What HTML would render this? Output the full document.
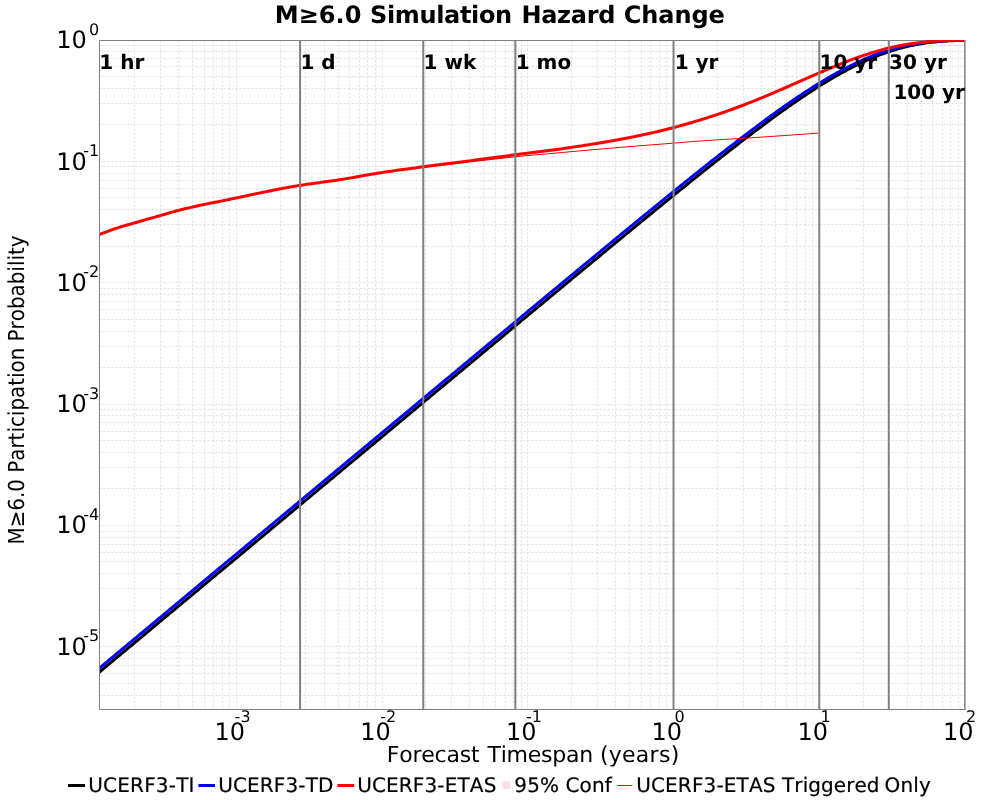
<!DOCTYPE html>
<html lang="en"><head><meta charset="utf-8"><title>M≥6.0 Simulation Hazard Change</title>
<style>html,body{margin:0;padding:0;background:#fff;}body{width:1000px;height:800px;overflow:hidden;}svg{display:block;font-kerning:none;}.lg text{stroke:#000;stroke-width:0.2px;stroke-linejoin:round;}svg{text-rendering:geometricPrecision;font-family:"DejaVu Sans","Liberation Sans",sans-serif;}</style>
</head><body>
<svg width="1000" height="800" viewBox="0 0 1000 800">
<rect x="0" y="0" width="1000" height="800" fill="#ffffff"/>
<defs><clipPath id="plot"><rect x="100" y="40" width="865.6" height="669.5"/></clipPath><clipPath id="plotg"><rect x="99.5" y="40.5" width="866.0" height="669.0"/></clipPath></defs>
<g stroke="#dedede" stroke-width="1" stroke-dasharray="2 2" fill="none" clip-path="url(#plotg)">
<line x1="134.5" y1="40.5" x2="134.5" y2="709.5"/>
<line x1="160.5" y1="40.5" x2="160.5" y2="709.5"/>
<line x1="178.5" y1="40.5" x2="178.5" y2="709.5"/>
<line x1="192.5" y1="40.5" x2="192.5" y2="709.5"/>
<line x1="204.5" y1="40.5" x2="204.5" y2="709.5"/>
<line x1="213.5" y1="40.5" x2="213.5" y2="709.5"/>
<line x1="222.5" y1="40.5" x2="222.5" y2="709.5"/>
<line x1="229.5" y1="40.5" x2="229.5" y2="709.5"/>
<line x1="236.5" y1="40.5" x2="236.5" y2="709.5"/>
<line x1="280.5" y1="40.5" x2="280.5" y2="709.5"/>
<line x1="305.5" y1="40.5" x2="305.5" y2="709.5"/>
<line x1="324.5" y1="40.5" x2="324.5" y2="709.5"/>
<line x1="338.5" y1="40.5" x2="338.5" y2="709.5"/>
<line x1="349.5" y1="40.5" x2="349.5" y2="709.5"/>
<line x1="359.5" y1="40.5" x2="359.5" y2="709.5"/>
<line x1="367.5" y1="40.5" x2="367.5" y2="709.5"/>
<line x1="375.5" y1="40.5" x2="375.5" y2="709.5"/>
<line x1="382.5" y1="40.5" x2="382.5" y2="709.5"/>
<line x1="425.5" y1="40.5" x2="425.5" y2="709.5"/>
<line x1="451.5" y1="40.5" x2="451.5" y2="709.5"/>
<line x1="469.5" y1="40.5" x2="469.5" y2="709.5"/>
<line x1="483.5" y1="40.5" x2="483.5" y2="709.5"/>
<line x1="495.5" y1="40.5" x2="495.5" y2="709.5"/>
<line x1="505.5" y1="40.5" x2="505.5" y2="709.5"/>
<line x1="513.5" y1="40.5" x2="513.5" y2="709.5"/>
<line x1="521.5" y1="40.5" x2="521.5" y2="709.5"/>
<line x1="527.5" y1="40.5" x2="527.5" y2="709.5"/>
<line x1="571.5" y1="40.5" x2="571.5" y2="709.5"/>
<line x1="597.5" y1="40.5" x2="597.5" y2="709.5"/>
<line x1="615.5" y1="40.5" x2="615.5" y2="709.5"/>
<line x1="629.5" y1="40.5" x2="629.5" y2="709.5"/>
<line x1="641.5" y1="40.5" x2="641.5" y2="709.5"/>
<line x1="650.5" y1="40.5" x2="650.5" y2="709.5"/>
<line x1="659.5" y1="40.5" x2="659.5" y2="709.5"/>
<line x1="666.5" y1="40.5" x2="666.5" y2="709.5"/>
<line x1="673.5" y1="40.5" x2="673.5" y2="709.5"/>
<line x1="717.5" y1="40.5" x2="717.5" y2="709.5"/>
<line x1="743.5" y1="40.5" x2="743.5" y2="709.5"/>
<line x1="761.5" y1="40.5" x2="761.5" y2="709.5"/>
<line x1="775.5" y1="40.5" x2="775.5" y2="709.5"/>
<line x1="786.5" y1="40.5" x2="786.5" y2="709.5"/>
<line x1="796.5" y1="40.5" x2="796.5" y2="709.5"/>
<line x1="805.5" y1="40.5" x2="805.5" y2="709.5"/>
<line x1="812.5" y1="40.5" x2="812.5" y2="709.5"/>
<line x1="819.5" y1="40.5" x2="819.5" y2="709.5"/>
<line x1="863.5" y1="40.5" x2="863.5" y2="709.5"/>
<line x1="888.5" y1="40.5" x2="888.5" y2="709.5"/>
<line x1="907.5" y1="40.5" x2="907.5" y2="709.5"/>
<line x1="921.5" y1="40.5" x2="921.5" y2="709.5"/>
<line x1="932.5" y1="40.5" x2="932.5" y2="709.5"/>
<line x1="942.5" y1="40.5" x2="942.5" y2="709.5"/>
<line x1="950.5" y1="40.5" x2="950.5" y2="709.5"/>
<line x1="958.5" y1="40.5" x2="958.5" y2="709.5"/>
<line x1="99.5" y1="695.5" x2="965.0" y2="695.5"/>
<line x1="99.5" y1="683.5" x2="965.0" y2="683.5"/>
<line x1="99.5" y1="673.5" x2="965.0" y2="673.5"/>
<line x1="99.5" y1="665.5" x2="965.0" y2="665.5"/>
<line x1="99.5" y1="658.5" x2="965.0" y2="658.5"/>
<line x1="99.5" y1="652.5" x2="965.0" y2="652.5"/>
<line x1="99.5" y1="646.5" x2="965.0" y2="646.5"/>
<line x1="99.5" y1="610.5" x2="965.0" y2="610.5"/>
<line x1="99.5" y1="588.5" x2="965.0" y2="588.5"/>
<line x1="99.5" y1="573.5" x2="965.0" y2="573.5"/>
<line x1="99.5" y1="561.5" x2="965.0" y2="561.5"/>
<line x1="99.5" y1="552.5" x2="965.0" y2="552.5"/>
<line x1="99.5" y1="544.5" x2="965.0" y2="544.5"/>
<line x1="99.5" y1="537.5" x2="965.0" y2="537.5"/>
<line x1="99.5" y1="531.5" x2="965.0" y2="531.5"/>
<line x1="99.5" y1="525.5" x2="965.0" y2="525.5"/>
<line x1="99.5" y1="488.5" x2="965.0" y2="488.5"/>
<line x1="99.5" y1="467.5" x2="965.0" y2="467.5"/>
<line x1="99.5" y1="452.5" x2="965.0" y2="452.5"/>
<line x1="99.5" y1="440.5" x2="965.0" y2="440.5"/>
<line x1="99.5" y1="431.5" x2="965.0" y2="431.5"/>
<line x1="99.5" y1="422.5" x2="965.0" y2="422.5"/>
<line x1="99.5" y1="415.5" x2="965.0" y2="415.5"/>
<line x1="99.5" y1="409.5" x2="965.0" y2="409.5"/>
<line x1="99.5" y1="404.5" x2="965.0" y2="404.5"/>
<line x1="99.5" y1="367.5" x2="965.0" y2="367.5"/>
<line x1="99.5" y1="346.5" x2="965.0" y2="346.5"/>
<line x1="99.5" y1="331.5" x2="965.0" y2="331.5"/>
<line x1="99.5" y1="319.5" x2="965.0" y2="319.5"/>
<line x1="99.5" y1="309.5" x2="965.0" y2="309.5"/>
<line x1="99.5" y1="301.5" x2="965.0" y2="301.5"/>
<line x1="99.5" y1="294.5" x2="965.0" y2="294.5"/>
<line x1="99.5" y1="288.5" x2="965.0" y2="288.5"/>
<line x1="99.5" y1="282.5" x2="965.0" y2="282.5"/>
<line x1="99.5" y1="246.5" x2="965.0" y2="246.5"/>
<line x1="99.5" y1="224.5" x2="965.0" y2="224.5"/>
<line x1="99.5" y1="209.5" x2="965.0" y2="209.5"/>
<line x1="99.5" y1="197.5" x2="965.0" y2="197.5"/>
<line x1="99.5" y1="188.5" x2="965.0" y2="188.5"/>
<line x1="99.5" y1="180.5" x2="965.0" y2="180.5"/>
<line x1="99.5" y1="173.5" x2="965.0" y2="173.5"/>
<line x1="99.5" y1="166.5" x2="965.0" y2="166.5"/>
<line x1="99.5" y1="161.5" x2="965.0" y2="161.5"/>
<line x1="99.5" y1="124.5" x2="965.0" y2="124.5"/>
<line x1="99.5" y1="103.5" x2="965.0" y2="103.5"/>
<line x1="99.5" y1="88.5" x2="965.0" y2="88.5"/>
<line x1="99.5" y1="76.5" x2="965.0" y2="76.5"/>
<line x1="99.5" y1="66.5" x2="965.0" y2="66.5"/>
<line x1="99.5" y1="58.5" x2="965.0" y2="58.5"/>
<line x1="99.5" y1="51.5" x2="965.0" y2="51.5"/>
<line x1="99.5" y1="45.5" x2="965.0" y2="45.5"/>
</g>
<path d="M965.5,40.5 L99.5,40.5 L99.5,709.5 L965.5,709.5" fill="none" stroke="#808080" stroke-width="1" stroke-linejoin="miter"/>
<g fill="none" stroke-linejoin="round" stroke-linecap="butt" clip-path="url(#plot)">
<path d="M99.00,672.40 L101.00,670.74 L103.00,669.07 L105.00,667.40 L107.00,665.74 L109.00,664.07 L111.00,662.41 L113.00,660.74 L115.00,659.08 L117.00,657.41 L119.00,655.75 L121.00,654.08 L123.00,652.42 L125.00,650.75 L127.00,649.08 L129.00,647.42 L131.00,645.75 L133.00,644.09 L135.00,642.42 L137.00,640.76 L139.00,639.09 L141.00,637.43 L143.00,635.76 L145.00,634.09 L147.00,632.43 L149.00,630.76 L151.00,629.10 L153.00,627.43 L155.00,625.77 L157.00,624.10 L159.00,622.44 L161.00,620.77 L163.00,619.11 L165.00,617.44 L167.00,615.77 L169.00,614.11 L171.00,612.44 L173.00,610.78 L175.00,609.11 L177.00,607.45 L179.00,605.78 L181.00,604.12 L183.00,602.45 L185.00,600.79 L187.00,599.12 L189.00,597.45 L191.00,595.79 L193.00,594.12 L195.00,592.46 L197.00,590.79 L199.00,589.13 L201.00,587.46 L203.00,585.80 L205.00,584.13 L207.00,582.47 L209.00,580.80 L211.00,579.13 L213.00,577.47 L215.00,575.80 L217.00,574.14 L219.00,572.47 L221.00,570.81 L223.00,569.14 L225.00,567.48 L227.00,565.81 L229.00,564.15 L231.00,562.48 L233.00,560.81 L235.00,559.15 L237.00,557.48 L239.00,555.82 L241.00,554.15 L243.00,552.49 L245.00,550.82 L247.00,549.16 L249.00,547.49 L251.00,545.83 L253.00,544.16 L255.00,542.50 L257.00,540.83 L259.00,539.16 L261.00,537.50 L263.00,535.83 L265.00,534.17 L267.00,532.50 L269.00,530.84 L271.00,529.17 L273.00,527.51 L275.00,525.84 L277.00,524.18 L279.00,522.51 L281.00,520.84 L283.00,519.18 L285.00,517.51 L287.00,515.85 L289.00,514.18 L291.00,512.52 L293.00,510.85 L295.00,509.19 L297.00,507.52 L299.00,505.86 L301.00,504.19 L303.00,502.53 L305.00,500.86 L307.00,499.20 L309.00,497.53 L311.00,495.86 L313.00,494.20 L315.00,492.53 L317.00,490.87 L319.00,489.20 L321.00,487.54 L323.00,485.87 L325.00,484.21 L327.00,482.54 L329.00,480.88 L331.00,479.21 L333.00,477.55 L335.00,475.88 L337.00,474.22 L339.00,472.55 L341.00,470.89 L343.00,469.22 L345.00,467.55 L347.00,465.89 L349.00,464.22 L351.00,462.56 L353.00,460.89 L355.00,459.23 L357.00,457.56 L359.00,455.90 L361.00,454.23 L363.00,452.57 L365.00,450.90 L367.00,449.24 L369.00,447.57 L371.00,445.91 L373.00,444.24 L375.00,442.58 L377.00,440.91 L379.00,439.25 L381.00,437.58 L383.00,435.92 L385.00,434.25 L387.00,432.59 L389.00,430.92 L391.00,429.26 L393.00,427.59 L395.00,425.93 L397.00,424.26 L399.00,422.60 L401.00,420.93 L403.00,419.27 L405.00,417.60 L407.00,415.94 L409.00,414.27 L411.00,412.61 L413.00,410.94 L415.00,409.28 L417.00,407.61 L419.00,405.95 L421.00,404.28 L423.00,402.62 L425.00,400.96 L427.00,399.29 L429.00,397.63 L431.00,395.96 L433.00,394.30 L435.00,392.63 L437.00,390.97 L439.00,389.30 L441.00,387.64 L443.00,385.98 L445.00,384.31 L447.00,382.65 L449.00,380.98 L451.00,379.32 L453.00,377.65 L455.00,375.99 L457.00,374.33 L459.00,372.66 L461.00,371.00 L463.00,369.33 L465.00,367.67 L467.00,366.01 L469.00,364.34 L471.00,362.68 L473.00,361.02 L475.00,359.35 L477.00,357.69 L479.00,356.03 L481.00,354.36 L483.00,352.70 L485.00,351.04 L487.00,349.37 L489.00,347.71 L491.00,346.05 L493.00,344.38 L495.00,342.72 L497.00,341.06 L499.00,339.39 L501.00,337.73 L503.00,336.07 L505.00,334.41 L507.00,332.75 L509.00,331.08 L511.00,329.42 L513.00,327.76 L515.00,326.10 L517.00,324.44 L519.00,322.77 L521.00,321.11 L523.00,319.45 L525.00,317.79 L527.00,316.13 L529.00,314.47 L531.00,312.81 L533.00,311.15 L535.00,309.49 L537.00,307.82 L539.00,306.16 L541.00,304.50 L543.00,302.84 L545.00,301.18 L547.00,299.53 L549.00,297.87 L551.00,296.21 L553.00,294.55 L555.00,292.89 L557.00,291.23 L559.00,289.57 L561.00,287.91 L563.00,286.26 L565.00,284.60 L567.00,282.94 L569.00,281.29 L571.00,279.63 L573.00,277.97 L575.00,276.32 L577.00,274.66 L579.00,273.00 L581.00,271.35 L583.00,269.69 L585.00,268.04 L587.00,266.39 L589.00,264.73 L591.00,263.08 L593.00,261.42 L595.00,259.77 L597.00,258.12 L599.00,256.47 L601.00,254.82 L603.00,253.17 L605.00,251.51 L607.00,249.86 L609.00,248.21 L611.00,246.57 L613.00,244.92 L615.00,243.27 L617.00,241.62 L619.00,239.97 L621.00,238.33 L623.00,236.68 L625.00,235.04 L627.00,233.39 L629.00,231.75 L631.00,230.11 L633.00,228.46 L635.00,226.82 L637.00,225.18 L639.00,223.54 L641.00,221.90 L643.00,220.26 L645.00,218.63 L647.00,216.99 L649.00,215.35 L651.00,213.72 L653.00,212.09 L655.00,210.45 L657.00,208.82 L659.00,207.19 L661.00,205.56 L663.00,203.93 L665.00,202.31 L667.00,200.68 L669.00,199.06 L671.00,197.43 L673.00,195.81 L675.00,194.19 L677.00,192.57 L679.00,190.95 L681.00,189.34 L683.00,187.72 L685.00,186.11 L687.00,184.50 L689.00,182.89 L691.00,181.28 L693.00,179.67 L695.00,178.07 L697.00,176.47 L699.00,174.87 L701.00,173.27 L703.00,171.67 L705.00,170.08 L707.00,168.49 L709.00,166.90 L711.00,165.31 L713.00,163.73 L715.00,162.14 L717.00,160.56 L719.00,158.99 L721.00,157.41 L723.00,155.84 L725.00,154.28 L727.00,152.71 L729.00,151.15 L731.00,149.59 L733.00,148.04 L735.00,146.48 L737.00,144.94 L739.00,143.39 L741.00,141.85 L743.00,140.32 L745.00,138.78 L747.00,137.25 L749.00,135.73 L751.00,134.21 L753.00,132.70 L755.00,131.18 L757.00,129.68 L759.00,128.18 L761.00,126.68 L763.00,125.19 L765.00,123.71 L767.00,122.23 L769.00,120.75 L771.00,119.29 L773.00,117.82 L775.00,116.37 L777.00,114.92 L779.00,113.48 L781.00,112.04 L783.00,110.61 L785.00,109.19 L787.00,107.78 L789.00,106.37 L791.00,104.97 L793.00,103.58 L795.00,102.20 L797.00,100.82 L799.00,99.46 L801.00,98.10 L803.00,96.75 L805.00,95.42 L807.00,94.09 L809.00,92.77 L811.00,91.46 L813.00,90.17 L815.00,88.88 L817.00,87.60 L819.00,86.34 L821.00,85.09 L823.00,83.85 L825.00,82.62 L827.00,81.40 L829.00,80.20 L831.00,79.01 L833.00,77.83 L835.00,76.67 L837.00,75.52 L839.00,74.39 L841.00,73.27 L843.00,72.16 L845.00,71.07 L847.00,70.00 L849.00,68.94 L851.00,67.90 L853.00,66.88 L855.00,65.87 L857.00,64.88 L859.00,63.91 L861.00,62.95 L863.00,62.02 L865.00,61.10 L867.00,60.20 L869.00,59.32 L871.00,58.46 L873.00,57.62 L875.00,56.80 L877.00,55.99 L879.00,55.21 L881.00,54.45 L883.00,53.72 L885.00,53.00 L887.00,52.30 L889.00,51.63 L891.00,50.97 L893.00,50.34 L895.00,49.73 L897.00,49.14 L899.00,48.57 L901.00,48.03 L903.00,47.50 L905.00,47.00 L907.00,46.52 L909.00,46.06 L911.00,45.62 L913.00,45.20 L915.00,44.81 L917.00,44.43 L919.00,44.07 L921.00,43.74 L923.00,43.42 L925.00,43.12 L927.00,42.84 L929.00,42.58 L931.00,42.34 L933.00,42.11 L935.00,41.90 L937.00,41.71 L939.00,41.53 L941.00,41.36 L943.00,41.21 L945.00,41.08 L947.00,40.95 L949.00,40.84 L951.00,40.74 L953.00,40.64 L955.00,40.56 L957.00,40.49 L959.00,40.42 L961.00,40.37 L963.00,40.32 L965.00,40.27" stroke="#000000" stroke-width="3"/>
<path d="M99.00,668.45 L101.00,666.78 L103.00,665.12 L105.00,663.45 L107.00,661.78 L109.00,660.12 L111.00,658.45 L113.00,656.79 L115.00,655.12 L117.00,653.46 L119.00,651.79 L121.00,650.13 L123.00,648.46 L125.00,646.80 L127.00,645.13 L129.00,643.46 L131.00,641.80 L133.00,640.13 L135.00,638.47 L137.00,636.80 L139.00,635.14 L141.00,633.47 L143.00,631.81 L145.00,630.14 L147.00,628.47 L149.00,626.81 L151.00,625.14 L153.00,623.48 L155.00,621.81 L157.00,620.15 L159.00,618.48 L161.00,616.82 L163.00,615.15 L165.00,613.49 L167.00,611.82 L169.00,610.15 L171.00,608.49 L173.00,606.82 L175.00,605.16 L177.00,603.49 L179.00,601.83 L181.00,600.16 L183.00,598.50 L185.00,596.83 L187.00,595.17 L189.00,593.50 L191.00,591.83 L193.00,590.17 L195.00,588.50 L197.00,586.84 L199.00,585.17 L201.00,583.51 L203.00,581.84 L205.00,580.18 L207.00,578.51 L209.00,576.85 L211.00,575.18 L213.00,573.51 L215.00,571.85 L217.00,570.18 L219.00,568.52 L221.00,566.85 L223.00,565.19 L225.00,563.52 L227.00,561.86 L229.00,560.19 L231.00,558.53 L233.00,556.86 L235.00,555.19 L237.00,553.53 L239.00,551.86 L241.00,550.20 L243.00,548.53 L245.00,546.87 L247.00,545.20 L249.00,543.54 L251.00,541.87 L253.00,540.21 L255.00,538.54 L257.00,536.88 L259.00,535.21 L261.00,533.54 L263.00,531.88 L265.00,530.21 L267.00,528.55 L269.00,526.88 L271.00,525.22 L273.00,523.55 L275.00,521.89 L277.00,520.22 L279.00,518.56 L281.00,516.89 L283.00,515.23 L285.00,513.56 L287.00,511.89 L289.00,510.23 L291.00,508.56 L293.00,506.90 L295.00,505.23 L297.00,503.57 L299.00,501.90 L301.00,500.24 L303.00,498.57 L305.00,496.91 L307.00,495.24 L309.00,493.58 L311.00,491.91 L313.00,490.24 L315.00,488.58 L317.00,486.91 L319.00,485.25 L321.00,483.58 L323.00,481.92 L325.00,480.25 L327.00,478.59 L329.00,476.92 L331.00,475.26 L333.00,473.59 L335.00,471.93 L337.00,470.26 L339.00,468.60 L341.00,466.93 L343.00,465.27 L345.00,463.60 L347.00,461.94 L349.00,460.27 L351.00,458.60 L353.00,456.94 L355.00,455.27 L357.00,453.61 L359.00,451.94 L361.00,450.28 L363.00,448.61 L365.00,446.95 L367.00,445.28 L369.00,443.62 L371.00,441.95 L373.00,440.29 L375.00,438.62 L377.00,436.96 L379.00,435.29 L381.00,433.63 L383.00,431.96 L385.00,430.30 L387.00,428.63 L389.00,426.97 L391.00,425.30 L393.00,423.64 L395.00,421.97 L397.00,420.31 L399.00,418.64 L401.00,416.98 L403.00,415.31 L405.00,413.65 L407.00,411.98 L409.00,410.32 L411.00,408.66 L413.00,406.99 L415.00,405.33 L417.00,403.66 L419.00,402.00 L421.00,400.33 L423.00,398.67 L425.00,397.00 L427.00,395.34 L429.00,393.67 L431.00,392.01 L433.00,390.35 L435.00,388.68 L437.00,387.02 L439.00,385.35 L441.00,383.69 L443.00,382.02 L445.00,380.36 L447.00,378.70 L449.00,377.03 L451.00,375.37 L453.00,373.70 L455.00,372.04 L457.00,370.38 L459.00,368.71 L461.00,367.05 L463.00,365.38 L465.00,363.72 L467.00,362.06 L469.00,360.39 L471.00,358.73 L473.00,357.07 L475.00,355.40 L477.00,353.74 L479.00,352.08 L481.00,350.41 L483.00,348.75 L485.00,347.09 L487.00,345.42 L489.00,343.76 L491.00,342.10 L493.00,340.43 L495.00,338.77 L497.00,337.11 L499.00,335.45 L501.00,333.78 L503.00,332.12 L505.00,330.46 L507.00,328.80 L509.00,327.14 L511.00,325.47 L513.00,323.81 L515.00,322.15 L517.00,320.49 L519.00,318.83 L521.00,317.17 L523.00,315.51 L525.00,313.85 L527.00,312.18 L529.00,310.52 L531.00,308.86 L533.00,307.20 L535.00,305.54 L537.00,303.88 L539.00,302.22 L541.00,300.56 L543.00,298.90 L545.00,297.24 L547.00,295.59 L549.00,293.93 L551.00,292.27 L553.00,290.61 L555.00,288.95 L557.00,287.29 L559.00,285.64 L561.00,283.98 L563.00,282.32 L565.00,280.66 L567.00,279.01 L569.00,277.35 L571.00,275.70 L573.00,274.04 L575.00,272.38 L577.00,270.73 L579.00,269.07 L581.00,267.42 L583.00,265.77 L585.00,264.11 L587.00,262.46 L589.00,260.81 L591.00,259.15 L593.00,257.50 L595.00,255.85 L597.00,254.20 L599.00,252.55 L601.00,250.90 L603.00,249.25 L605.00,247.60 L607.00,245.95 L609.00,244.30 L611.00,242.65 L613.00,241.00 L615.00,239.36 L617.00,237.71 L619.00,236.07 L621.00,234.42 L623.00,232.78 L625.00,231.13 L627.00,229.49 L629.00,227.85 L631.00,226.21 L633.00,224.57 L635.00,222.93 L637.00,221.29 L639.00,219.65 L641.00,218.01 L643.00,216.38 L645.00,214.74 L647.00,213.11 L649.00,211.47 L651.00,209.84 L653.00,208.21 L655.00,206.58 L657.00,204.95 L659.00,203.32 L661.00,201.70 L663.00,200.07 L665.00,198.45 L667.00,196.82 L669.00,195.20 L671.00,193.58 L673.00,191.96 L675.00,190.35 L677.00,188.73 L679.00,187.12 L681.00,185.50 L683.00,183.89 L685.00,182.28 L687.00,180.68 L689.00,179.07 L691.00,177.47 L693.00,175.87 L695.00,174.27 L697.00,172.67 L699.00,171.07 L701.00,169.48 L703.00,167.89 L705.00,166.30 L707.00,164.72 L709.00,163.13 L711.00,161.55 L713.00,159.97 L715.00,158.40 L717.00,156.83 L719.00,155.26 L721.00,153.69 L723.00,152.13 L725.00,150.57 L727.00,149.01 L729.00,147.45 L731.00,145.90 L733.00,144.36 L735.00,142.82 L737.00,141.28 L739.00,139.74 L741.00,138.21 L743.00,136.68 L745.00,135.16 L747.00,133.64 L749.00,132.13 L751.00,130.62 L753.00,129.12 L755.00,127.62 L757.00,126.12 L759.00,124.64 L761.00,123.15 L763.00,121.67 L765.00,120.20 L767.00,118.74 L769.00,117.28 L771.00,115.82 L773.00,114.38 L775.00,112.94 L777.00,111.50 L779.00,110.08 L781.00,108.66 L783.00,107.25 L785.00,105.84 L787.00,104.45 L789.00,103.06 L791.00,101.68 L793.00,100.31 L795.00,98.95 L797.00,97.60 L799.00,96.25 L801.00,94.92 L803.00,93.59 L805.00,92.28 L807.00,90.98 L809.00,89.68 L811.00,88.40 L813.00,87.13 L815.00,85.87 L817.00,84.62 L819.00,83.39 L821.00,82.16 L823.00,80.95 L825.00,79.75 L827.00,78.57 L829.00,77.40 L831.00,76.24 L833.00,75.10 L835.00,73.97 L837.00,72.85 L839.00,71.75 L841.00,70.67 L843.00,69.60 L845.00,68.55 L847.00,67.52 L849.00,66.50 L851.00,65.50 L853.00,64.51 L855.00,63.55 L857.00,62.60 L859.00,61.67 L861.00,60.76 L863.00,59.87 L865.00,58.99 L867.00,58.14 L869.00,57.31 L871.00,56.49 L873.00,55.70 L875.00,54.93 L877.00,54.18 L879.00,53.44 L881.00,52.73 L883.00,52.05 L885.00,51.38 L887.00,50.73 L889.00,50.11 L891.00,49.50 L893.00,48.92 L895.00,48.36 L897.00,47.83 L899.00,47.31 L901.00,46.82 L903.00,46.34 L905.00,45.89 L907.00,45.46 L909.00,45.05 L911.00,44.66 L913.00,44.29 L915.00,43.94 L917.00,43.62 L919.00,43.31 L921.00,43.02 L923.00,42.74 L925.00,42.49 L927.00,42.25 L929.00,42.03 L931.00,41.83 L933.00,41.64 L935.00,41.47 L937.00,41.31 L939.00,41.16 L941.00,41.03 L943.00,40.91 L945.00,40.80 L947.00,40.70 L949.00,40.61 L951.00,40.53 L953.00,40.46 L955.00,40.40 L957.00,40.35 L959.00,40.30 L961.00,40.26 L963.00,40.22 L965.00,40.19" stroke="#0000ff" stroke-width="3"/>
<path d="M99.00,234.79 L101.00,233.96 L103.00,233.16 L105.00,232.38 L107.00,231.61 L109.00,230.86 L111.00,230.13 L113.00,229.42 L115.00,228.73 L117.00,228.06 L119.00,227.40 L121.00,226.77 L123.00,226.17 L125.00,225.59 L127.00,225.03 L129.00,224.49 L131.00,223.94 L133.00,223.38 L135.00,222.81 L137.00,222.22 L139.00,221.63 L141.00,221.04 L143.00,220.46 L145.00,219.88 L147.00,219.31 L149.00,218.75 L151.00,218.19 L153.00,217.63 L155.00,217.08 L157.00,216.52 L159.00,215.96 L161.00,215.39 L163.00,214.81 L165.00,214.21 L167.00,213.62 L169.00,213.02 L171.00,212.43 L173.00,211.84 L175.00,211.28 L177.00,210.73 L179.00,210.21 L181.00,209.71 L183.00,209.23 L185.00,208.76 L187.00,208.31 L189.00,207.86 L191.00,207.41 L193.00,206.95 L195.00,206.49 L197.00,206.03 L199.00,205.57 L201.00,205.12 L203.00,204.68 L205.00,204.26 L207.00,203.85 L209.00,203.46 L211.00,203.08 L213.00,202.70 L215.00,202.32 L217.00,201.94 L219.00,201.55 L221.00,201.15 L223.00,200.74 L225.00,200.32 L227.00,199.90 L229.00,199.48 L231.00,199.05 L233.00,198.63 L235.00,198.20 L237.00,197.79 L239.00,197.37 L241.00,196.95 L243.00,196.52 L245.00,196.10 L247.00,195.67 L249.00,195.25 L251.00,194.82 L253.00,194.40 L255.00,193.97 L257.00,193.55 L259.00,193.13 L261.00,192.71 L263.00,192.29 L265.00,191.88 L267.00,191.47 L269.00,191.06 L271.00,190.66 L273.00,190.26 L275.00,189.86 L277.00,189.48 L279.00,189.09 L281.00,188.72 L283.00,188.34 L285.00,187.97 L287.00,187.61 L289.00,187.24 L291.00,186.89 L293.00,186.54 L295.00,186.20 L297.00,185.86 L299.00,185.54 L301.00,185.22 L303.00,184.91 L305.00,184.61 L307.00,184.31 L309.00,184.03 L311.00,183.74 L313.00,183.46 L315.00,183.19 L317.00,182.92 L319.00,182.65 L321.00,182.38 L323.00,182.11 L325.00,181.84 L327.00,181.57 L329.00,181.29 L331.00,181.01 L333.00,180.73 L335.00,180.44 L337.00,180.15 L339.00,179.85 L341.00,179.54 L343.00,179.22 L345.00,178.89 L347.00,178.56 L349.00,178.22 L351.00,177.87 L353.00,177.52 L355.00,177.17 L357.00,176.82 L359.00,176.46 L361.00,176.10 L363.00,175.74 L365.00,175.39 L367.00,175.03 L369.00,174.68 L371.00,174.33 L373.00,173.99 L375.00,173.65 L377.00,173.32 L379.00,173.00 L381.00,172.68 L383.00,172.37 L385.00,172.07 L387.00,171.77 L389.00,171.48 L391.00,171.19 L393.00,170.90 L395.00,170.62 L397.00,170.33 L399.00,170.06 L401.00,169.78 L403.00,169.50 L405.00,169.23 L407.00,168.96 L409.00,168.69 L411.00,168.42 L413.00,168.15 L415.00,167.89 L417.00,167.62 L419.00,167.35 L421.00,167.09 L423.00,166.82 L425.00,166.55 L427.00,166.29 L429.00,166.03 L431.00,165.76 L433.00,165.50 L435.00,165.24 L437.00,164.98 L439.00,164.73 L441.00,164.47 L443.00,164.21 L445.00,163.95 L447.00,163.70 L449.00,163.44 L451.00,163.19 L453.00,162.93 L455.00,162.67 L457.00,162.42 L459.00,162.16 L461.00,161.90 L463.00,161.65 L465.00,161.39 L467.00,161.14 L469.00,160.88 L471.00,160.62 L473.00,160.37 L475.00,160.11 L477.00,159.86 L479.00,159.60 L481.00,159.34 L483.00,159.08 L485.00,158.83 L487.00,158.57 L489.00,158.31 L491.00,158.05 L493.00,157.78 L495.00,157.52 L497.00,157.26 L499.00,156.99 L501.00,156.72 L503.00,156.45 L505.00,156.18 L507.00,155.90 L509.00,155.63 L511.00,155.36 L513.00,155.09 L515.00,154.83 L517.00,154.57 L519.00,154.31 L521.00,154.06 L523.00,153.81 L525.00,153.56 L527.00,153.31 L529.00,153.06 L531.00,152.81 L533.00,152.56 L535.00,152.31 L537.00,152.06 L539.00,151.81 L541.00,151.56 L543.00,151.31 L545.00,151.05 L547.00,150.79 L549.00,150.53 L551.00,150.27 L553.00,150.00 L555.00,149.73 L557.00,149.46 L559.00,149.18 L561.00,148.90 L563.00,148.61 L565.00,148.32 L567.00,148.03 L569.00,147.73 L571.00,147.43 L573.00,147.14 L575.00,146.84 L577.00,146.54 L579.00,146.24 L581.00,145.93 L583.00,145.63 L585.00,145.32 L587.00,145.00 L589.00,144.69 L591.00,144.37 L593.00,144.05 L595.00,143.73 L597.00,143.40 L599.00,143.07 L601.00,142.74 L603.00,142.40 L605.00,142.06 L607.00,141.71 L609.00,141.37 L611.00,141.02 L613.00,140.66 L615.00,140.30 L617.00,139.94 L619.00,139.57 L621.00,139.20 L623.00,138.82 L625.00,138.44 L627.00,138.06 L629.00,137.67 L631.00,137.28 L633.00,136.88 L635.00,136.48 L637.00,136.07 L639.00,135.66 L641.00,135.24 L643.00,134.82 L645.00,134.39 L647.00,133.95 L649.00,133.51 L651.00,133.07 L653.00,132.61 L655.00,132.16 L657.00,131.69 L659.00,131.22 L661.00,130.74 L663.00,130.26 L665.00,129.76 L667.00,129.27 L669.00,128.76 L671.00,128.25 L673.00,127.73 L675.00,127.20 L677.00,126.67 L679.00,126.12 L681.00,125.57 L683.00,125.01 L685.00,124.45 L687.00,123.87 L689.00,123.29 L691.00,122.71 L693.00,122.12 L695.00,121.52 L697.00,120.92 L699.00,120.31 L701.00,119.70 L703.00,119.08 L705.00,118.46 L707.00,117.83 L709.00,117.19 L711.00,116.55 L713.00,115.90 L715.00,115.24 L717.00,114.57 L719.00,113.90 L721.00,113.22 L723.00,112.54 L725.00,111.84 L727.00,111.14 L729.00,110.43 L731.00,109.72 L733.00,108.99 L735.00,108.26 L737.00,107.52 L739.00,106.78 L741.00,106.02 L743.00,105.26 L745.00,104.49 L747.00,103.72 L749.00,102.94 L751.00,102.15 L753.00,101.35 L755.00,100.55 L757.00,99.74 L759.00,98.92 L761.00,98.10 L763.00,97.27 L765.00,96.44 L767.00,95.60 L769.00,94.76 L771.00,93.91 L773.00,93.06 L775.00,92.20 L777.00,91.34 L779.00,90.48 L781.00,89.61 L783.00,88.75 L785.00,87.87 L787.00,87.00 L789.00,86.12 L791.00,85.24 L793.00,84.37 L795.00,83.49 L797.00,82.60 L799.00,81.72 L801.00,80.84 L803.00,79.96 L805.00,79.08 L807.00,78.20 L809.00,77.32 L811.00,76.45 L813.00,75.57 L815.00,74.70 L817.00,73.84 L819.00,72.97 L821.00,72.11 L823.00,71.25 L825.00,70.40 L827.00,69.56 L829.00,68.71 L831.00,67.88 L833.00,67.05 L835.00,66.22 L837.00,65.41 L839.00,64.60 L841.00,63.80 L843.00,63.01 L845.00,62.22 L847.00,61.45 L849.00,60.69 L851.00,59.93 L853.00,59.19 L855.00,58.46 L857.00,57.74 L859.00,57.03 L861.00,56.33 L863.00,55.65 L865.00,54.98 L867.00,54.32 L869.00,53.67 L871.00,53.04 L873.00,52.43 L875.00,51.83 L877.00,51.24 L879.00,50.67 L881.00,50.11 L883.00,49.57 L885.00,49.05 L887.00,48.54 L889.00,48.05 L891.00,47.57 L893.00,47.11 L895.00,46.67 L897.00,46.24 L899.00,45.83 L901.00,45.44 L903.00,45.07 L905.00,44.71 L907.00,44.36 L909.00,44.04 L911.00,43.73 L913.00,43.43 L915.00,43.16 L917.00,42.89 L919.00,42.65 L921.00,42.41 L923.00,42.20 L925.00,41.99 L927.00,41.80 L929.00,41.63 L931.00,41.46 L933.00,41.31 L935.00,41.17 L937.00,41.05 L939.00,40.93 L941.00,40.82 L943.00,40.73 L945.00,40.64 L947.00,40.56 L949.00,40.49 L951.00,40.43 L953.00,40.37 L955.00,40.32 L957.00,40.28 L959.00,40.24 L961.00,40.21 L963.00,40.18 L965.00,40.16" stroke="#ff0000" stroke-width="3"/>
<path d="M99.00,234.80 L101.00,233.98 L103.00,233.18 L105.00,232.39 L107.00,231.63 L109.00,230.88 L111.00,230.15 L113.00,229.44 L115.00,228.75 L117.00,228.07 L119.00,227.42 L121.00,226.79 L123.00,226.19 L125.00,225.61 L127.00,225.05 L129.00,224.50 L131.00,223.96 L133.00,223.40 L135.00,222.83 L137.00,222.24 L139.00,221.65 L141.00,221.06 L143.00,220.48 L145.00,219.90 L147.00,219.33 L149.00,218.77 L151.00,218.21 L153.00,217.66 L155.00,217.10 L157.00,216.54 L159.00,215.98 L161.00,215.41 L163.00,214.83 L165.00,214.24 L167.00,213.64 L169.00,213.05 L171.00,212.45 L173.00,211.87 L175.00,211.31 L177.00,210.76 L179.00,210.24 L181.00,209.74 L183.00,209.26 L185.00,208.80 L187.00,208.34 L189.00,207.89 L191.00,207.44 L193.00,206.99 L195.00,206.53 L197.00,206.07 L199.00,205.61 L201.00,205.16 L203.00,204.72 L205.00,204.30 L207.00,203.89 L209.00,203.50 L211.00,203.12 L213.00,202.74 L215.00,202.37 L217.00,201.99 L219.00,201.60 L221.00,201.20 L223.00,200.79 L225.00,200.37 L227.00,199.95 L229.00,199.53 L231.00,199.10 L233.00,198.68 L235.00,198.26 L237.00,197.84 L239.00,197.43 L241.00,197.01 L243.00,196.59 L245.00,196.16 L247.00,195.74 L249.00,195.32 L251.00,194.89 L253.00,194.47 L255.00,194.05 L257.00,193.62 L259.00,193.20 L261.00,192.79 L263.00,192.37 L265.00,191.96 L267.00,191.55 L269.00,191.14 L271.00,190.74 L273.00,190.35 L275.00,189.96 L277.00,189.57 L279.00,189.19 L281.00,188.81 L283.00,188.44 L285.00,188.07 L287.00,187.71 L289.00,187.35 L291.00,187.00 L293.00,186.65 L295.00,186.31 L297.00,185.98 L299.00,185.66 L301.00,185.34 L303.00,185.04 L305.00,184.74 L307.00,184.45 L309.00,184.16 L311.00,183.89 L313.00,183.61 L315.00,183.34 L317.00,183.07 L319.00,182.81 L321.00,182.54 L323.00,182.28 L325.00,182.01 L327.00,181.74 L329.00,181.47 L331.00,181.20 L333.00,180.92 L335.00,180.64 L337.00,180.35 L339.00,180.05 L341.00,179.75 L343.00,179.43 L345.00,179.11 L347.00,178.78 L349.00,178.45 L351.00,178.11 L353.00,177.77 L355.00,177.42 L357.00,177.07 L359.00,176.72 L361.00,176.37 L363.00,176.02 L365.00,175.67 L367.00,175.32 L369.00,174.98 L371.00,174.64 L373.00,174.30 L375.00,173.97 L377.00,173.65 L379.00,173.33 L381.00,173.02 L383.00,172.73 L385.00,172.43 L387.00,172.14 L389.00,171.86 L391.00,171.58 L393.00,171.30 L395.00,171.03 L397.00,170.76 L399.00,170.49 L401.00,170.22 L403.00,169.96 L405.00,169.70 L407.00,169.44 L409.00,169.18 L411.00,168.93 L413.00,168.67 L415.00,168.42 L417.00,168.17 L419.00,167.92 L421.00,167.66 L423.00,167.41 L425.00,167.16 L427.00,166.91 L429.00,166.67 L431.00,166.42 L433.00,166.18 L435.00,165.94 L437.00,165.70 L439.00,165.46 L441.00,165.22 L443.00,164.98 L445.00,164.75 L447.00,164.51 L449.00,164.28 L451.00,164.04 L453.00,163.81 L455.00,163.58 L457.00,163.35 L459.00,163.12 L461.00,162.88 L463.00,162.65 L465.00,162.42 L467.00,162.20 L469.00,161.97 L471.00,161.74 L473.00,161.52 L475.00,161.29 L477.00,161.07 L479.00,160.84 L481.00,160.62 L483.00,160.40 L485.00,160.17 L487.00,159.95 L489.00,159.73 L491.00,159.50 L493.00,159.28 L495.00,159.06 L497.00,158.84 L499.00,158.61 L501.00,158.39 L503.00,158.16 L505.00,157.93 L507.00,157.70 L509.00,157.48 L511.00,157.25 L513.00,157.04 L515.00,156.83 L517.00,156.62 L519.00,156.42 L521.00,156.23 L523.00,156.03 L525.00,155.85 L527.00,155.66 L529.00,155.47 L531.00,155.29 L533.00,155.11 L535.00,154.93 L537.00,154.75 L539.00,154.57 L541.00,154.40 L543.00,154.22 L545.00,154.05 L547.00,153.87 L549.00,153.69 L551.00,153.51 L553.00,153.34 L555.00,153.16 L557.00,152.98 L559.00,152.79 L561.00,152.61 L563.00,152.42 L565.00,152.23 L567.00,152.04 L569.00,151.85 L571.00,151.67 L573.00,151.48 L575.00,151.30 L577.00,151.12 L579.00,150.94 L581.00,150.76 L583.00,150.58 L585.00,150.40 L587.00,150.23 L589.00,150.05 L591.00,149.88 L593.00,149.70 L595.00,149.53 L597.00,149.35 L599.00,149.18 L601.00,149.01 L603.00,148.84 L605.00,148.66 L607.00,148.49 L609.00,148.32 L611.00,148.16 L613.00,147.99 L615.00,147.82 L617.00,147.65 L619.00,147.48 L621.00,147.32 L623.00,147.15 L625.00,146.99 L627.00,146.82 L629.00,146.66 L631.00,146.50 L633.00,146.34 L635.00,146.17 L637.00,146.01 L639.00,145.85 L641.00,145.69 L643.00,145.54 L645.00,145.38 L647.00,145.22 L649.00,145.06 L651.00,144.90 L653.00,144.74 L655.00,144.59 L657.00,144.43 L659.00,144.27 L661.00,144.11 L663.00,143.95 L665.00,143.80 L667.00,143.64 L669.00,143.48 L671.00,143.32 L673.00,143.16 L675.00,143.00 L677.00,142.84 L679.00,142.67 L681.00,142.51 L683.00,142.34 L685.00,142.18 L687.00,142.01 L689.00,141.85 L691.00,141.69 L693.00,141.53 L695.00,141.37 L697.00,141.22 L699.00,141.07 L701.00,140.93 L703.00,140.79 L705.00,140.65 L707.00,140.51 L709.00,140.38 L711.00,140.25 L713.00,140.12 L715.00,139.99 L717.00,139.86 L719.00,139.73 L721.00,139.61 L723.00,139.49 L725.00,139.36 L727.00,139.24 L729.00,139.12 L731.00,139.00 L733.00,138.88 L735.00,138.76 L737.00,138.64 L739.00,138.52 L741.00,138.40 L743.00,138.28 L745.00,138.15 L747.00,138.03 L749.00,137.91 L751.00,137.78 L753.00,137.65 L755.00,137.53 L757.00,137.40 L759.00,137.27 L761.00,137.13 L763.00,137.00 L765.00,136.87 L767.00,136.73 L769.00,136.59 L771.00,136.46 L773.00,136.32 L775.00,136.18 L777.00,136.05 L779.00,135.91 L781.00,135.77 L783.00,135.63 L785.00,135.49 L787.00,135.35 L789.00,135.21 L791.00,135.07 L793.00,134.93 L795.00,134.79 L797.00,134.64 L799.00,134.50 L801.00,134.36 L803.00,134.22 L805.00,134.07 L807.00,133.93 L809.00,133.78 L811.00,133.64 L813.00,133.50 L815.00,133.35 L817.00,133.21 L818.40,133.11" stroke="#ff0000" stroke-width="1"/>
</g>
<g stroke="#808080" stroke-width="2">
<line x1="300.09" y1="40" x2="300.09" y2="710.0"/>
<line x1="423.25" y1="40" x2="423.25" y2="710.0"/>
<line x1="515.36" y1="40" x2="515.36" y2="710.0"/>
<line x1="673.54" y1="40" x2="673.54" y2="710.0"/>
<line x1="819.27" y1="40" x2="819.27" y2="710.0"/>
<line x1="888.80" y1="40" x2="888.80" y2="710.0"/>
<line x1="964.85" y1="40" x2="964.85" y2="710.0" stroke-width="1.5"/>
</g>
<g font-size="20" font-weight="bold" fill="#000">
<text x="99.3" y="69">1 hr</text>
<text x="300.4" y="69">1 d</text>
<text x="423.6" y="69">1 wk</text>
<text x="515.7" y="69">1 mo</text>
<text x="674.7" y="69">1 yr</text>
<text x="819.5" y="69">10 yr</text>
<text x="889.1" y="69">30 yr</text>
<text x="965.0" y="99" text-anchor="end">100 yr</text>
</g>
<text y="23" font-size="24" font-weight="bold" fill="#000"><tspan x="274.73" textLength="86.76" lengthAdjust="spacing">M≥6.0</tspan> <tspan x="370.02" textLength="142.14" lengthAdjust="spacing">Simulation</tspan> <tspan x="521.44" textLength="93.93" lengthAdjust="spacing">Hazard</tspan> <tspan x="623.63" textLength="101.23" lengthAdjust="spacing">Change</tspan></text>
<text x="56.2" y="48.3" font-size="24" fill="#000">10</text>
<text x="99.3" y="35.0" font-size="16" text-anchor="end" fill="#000">0</text>
<text x="56.2" y="170.0" font-size="24" fill="#000">10</text>
<text x="99.3" y="156.0" font-size="16" text-anchor="end" fill="#000">-1</text>
<text x="56.2" y="291.0" font-size="24" fill="#000">10</text>
<text x="99.3" y="277.2" font-size="16" text-anchor="end" fill="#000">-2</text>
<text x="56.2" y="412.0" font-size="24" fill="#000">10</text>
<text x="99.3" y="399.2" font-size="16" text-anchor="end" fill="#000">-3</text>
<text x="56.2" y="533.3" font-size="24" fill="#000">10</text>
<text x="99.3" y="520.3" font-size="16" text-anchor="end" fill="#000">-4</text>
<text x="56.2" y="655.0" font-size="24" fill="#000">10</text>
<text x="99.3" y="641.0" font-size="16" text-anchor="end" fill="#000">-5</text>
<text x="214.5" y="740.2" font-size="24" fill="#000">10</text>
<text x="242.6" y="722" font-size="16" text-anchor="middle" fill="#000">-3</text>
<text x="360.2" y="740.2" font-size="24" fill="#000">10</text>
<text x="388.3" y="722" font-size="16" text-anchor="middle" fill="#000">-2</text>
<text x="505.9" y="740.2" font-size="24" fill="#000">10</text>
<text x="534.0" y="722" font-size="16" text-anchor="middle" fill="#000">-1</text>
<text x="651.6" y="740.2" font-size="24" fill="#000">10</text>
<text x="679.7" y="722" font-size="16" text-anchor="middle" fill="#000">0</text>
<text x="797.4" y="740.2" font-size="24" fill="#000">10</text>
<text x="825.5" y="722" font-size="16" text-anchor="middle" fill="#000">1</text>
<text x="943.1" y="740.2" font-size="24" fill="#000">10</text>
<text x="971.2" y="722" font-size="16" text-anchor="middle" fill="#000">2</text>
<text y="762" font-size="22" fill="#000"><tspan x="386.73" textLength="92.89" lengthAdjust="spacing">Forecast</tspan> <tspan x="487.54" textLength="105.69" lengthAdjust="spacing">Timespan</tspan> <tspan x="599.88" textLength="79.34" lengthAdjust="spacing">(years)</tspan></text>
<text transform="translate(24,390) rotate(-90)" font-size="22" text-anchor="middle" textLength="309" lengthAdjust="spacingAndGlyphs" fill="#000">M≥6.0 Participation Probability</text>
<g class="lg" font-size="20" fill="#000">
<line x1="68" y1="785.5" x2="85" y2="785.5" stroke="#000" stroke-width="3"/>
<text x="88.26" y="791.8" textLength="106.25" lengthAdjust="spacing">UCERF3-TI</text>
<line x1="198.4" y1="785.5" x2="215" y2="785.5" stroke="#0000ff" stroke-width="3"/>
<text x="218.21" y="791.8" textLength="115.21" lengthAdjust="spacing">UCERF3-TD</text>
<line x1="337.4" y1="785.5" x2="354.2" y2="785.5" stroke="#ff0000" stroke-width="3"/>
<text x="357.15" y="791.8" textLength="139.22" lengthAdjust="spacing">UCERF3-ETAS</text>
<rect x="502.4" y="781.4" width="8" height="7.6" fill="#ffe0e0"/>
<text x="514.36" y="791.8" textLength="97.35" lengthAdjust="spacing">95% Conf</text>
<line x1="617.3" y1="785.5" x2="632" y2="785.5" stroke="#ff0000" stroke-width="1"/>
<text y="791.8"><tspan x="636.15" textLength="139.36" lengthAdjust="spacing">UCERF3-ETAS</tspan> <tspan x="782.09" textLength="97.39" lengthAdjust="spacing">Triggered</tspan> <tspan x="884.45" textLength="46.4" lengthAdjust="spacing">Only</tspan></text>
</g>
</svg>
</body></html>
